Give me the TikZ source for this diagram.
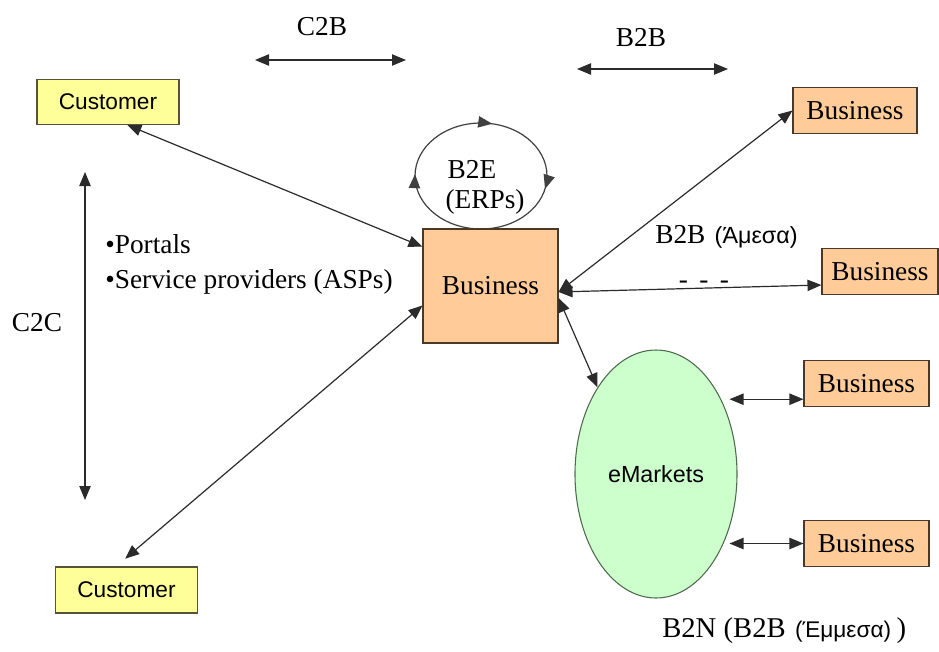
\documentclass[tikz,border=0pt]{standalone}
\usepackage{fontspec}
\setmainfont{Liberation Serif}
\newfontfamily\arialfont{Liberation Sans}
\usetikzlibrary{arrows.meta,shapes.geometric,decorations.markings,calc}

\definecolor{peach}{HTML}{FFCC99}
\definecolor{peachline}{HTML}{4A3828}
\definecolor{lemon}{HTML}{FFFF99}
\definecolor{lemonline}{HTML}{55533A}
\definecolor{mint}{HTML}{CCFFCC}
\definecolor{mintline}{HTML}{4F6A4F}
\definecolor{ink}{HTML}{2B2B2B}

\begin{document}
\begin{tikzpicture}[x=0.75pt,y=-0.75pt,
  tip/.tip={Triangle[length=10.5pt,width=8.5pt]},
  conn/.style={draw=ink, line width=0.9pt, tip-tip},
  serif/.style={font=\fontsize{20.5}{24}\selectfont, inner sep=0pt},
  custbox/.style={draw=lemonline, fill=lemon, line width=0.8pt, inner sep=0pt,
    font=\arialfont\fontsize{17}{20}\selectfont},
  bizbox/.style={draw=peachline, fill=peach, line width=0.8pt, inner sep=0pt,
    font=\fontsize{20.5}{24}\selectfont}
]
\useasboundingbox (0,0) rectangle (939,651);
\fill[white] (0,0) rectangle (939,651);

% B2E loop around the ERP label
\draw[draw=black!75, line width=0.9pt, postaction={decorate},
  decoration={markings,
    mark=at position 0.035 with {\arrow{tip}},
    mark=at position 0.505 with {\arrow{tip}},
    mark=at position 0.78 with {\arrow{tip}}}]
  (481,176) ellipse [x radius=66, y radius=53];
\node[serif, anchor=base] (b2e) at (472,178) {B2E};
\node[serif, anchor=base] (erps) at (485,208) {(ERPs)};

% boxes
\node[custbox, minimum width=106.5pt, minimum height=33.75pt] (cust1) at (108,102) {Customer};
\node[custbox, minimum width=107pt, minimum height=34.5pt] (cust2) at (126.5,590) {Customer};
\node[bizbox, minimum width=101.25pt, minimum height=85.5pt] (biz) at (490.5,286) {\raisebox{-3pt}{Business}};
\node[bizbox, minimum width=93pt, minimum height=35pt] (b1) at (855,110.5) {Business};
\node[bizbox, minimum width=87pt, minimum height=35pt] (b2) at (880,271.5) {Business};
\node[bizbox, minimum width=93.75pt, minimum height=35pt] (b3) at (866.5,383.5) {Business};
\node[bizbox, minimum width=93.75pt, minimum height=35pt] (b4) at (866.5,543.5) {Business};
\node[ellipse, draw=mintline, fill=mint, line width=0.8pt, inner sep=0pt,
  minimum width=121.5pt, minimum height=186pt,
  font=\arialfont\fontsize{17.5}{20}\selectfont] (em) at (656,474) {eMarkets};

% labels
\node[serif, anchor=base] (c2b) at (322,35) {C2B};
\node[serif, anchor=base] (b2btop) at (641,46) {B2B};
\node[serif, anchor=base] (c2c) at (37,331) {C2C};
\node[serif, anchor=base west] (portals) at (105,253) {•Portals};
\node[serif, anchor=base west] (asps) at (105,288) {•Service providers (ASPs)};
\node[serif, anchor=base west] (direct) at (655,243) {B2B\hspace{7pt}{\arialfont\fontsize{17.5}{18}\selectfont(Άμεσα)}};
\node[serif, anchor=base] (dots) at (704,288) {-\, -\, -};
\node[serif, anchor=base west, font=\fontsize{21.5}{24}\selectfont] (b2n) at (662,637)
  {B2N (B2B\hspace{7pt}{\arialfont\fontsize{17}{18}\selectfont(Έμμεσα)}\hspace{4pt})};

% free-standing relation arrows
\coordinate (c2bL) at (255,60);
\coordinate (c2bR) at (406,60);
\coordinate (b2bL) at (577,69);
\coordinate (b2bR) at (728,69);
\coordinate (c2cT) at (85,172);
\coordinate (c2cB) at (85,500);
\draw[conn] (c2bL) -- (c2bR);
\draw[conn] (b2bL) -- (b2bR);
\draw[conn] (c2cT) -- (c2cB);

% connectors between parties
\draw[conn] (cust1.-50) -- (biz.150);
\draw[conn, shorten <=9pt] (cust2.114) -- (biz.196);
\draw[conn] (biz.-5) -- (b1.west);
\draw[conn] (biz.-5) -- (b2.193);
\draw[conn] (biz.-10) -- (em.124);
\draw[conn, shorten >=-6pt] (b3.194) -- (b3.194 -| em.east);
\draw[conn, shorten >=-6pt] (b4.west) -- (b4.west -| em.east);
\end{tikzpicture}
\end{document}
